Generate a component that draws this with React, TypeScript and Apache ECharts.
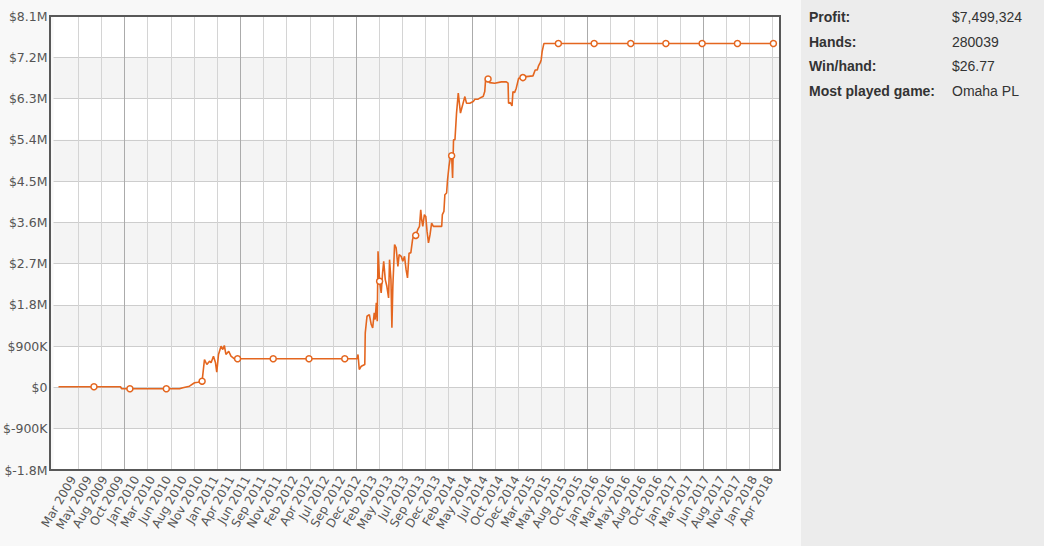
import { useEffect, useRef } from "react";
import * as echarts from "echarts";

// x-axis tick labels (one per label position on the axis)
const tickLabels = [
  "Mar 2009", "May 2009", "Aug 2009", "Oct 2009", "Jan 2010", "Mar 2010", "Jun 2010", "Aug 2010",
  "Nov 2010", "Jan 2011", "Apr 2011", "Jun 2011", "Sep 2011", "Nov 2011", "Feb 2012", "Apr 2012",
  "Jul 2012", "Sep 2012", "Dec 2012", "Feb 2013", "May 2013", "Jul 2013", "Sep 2013", "Dec 2013",
  "Feb 2014", "May 2014", "Jul 2014", "Oct 2014", "Dec 2014", "Mar 2015", "May 2015", "Aug 2015",
  "Oct 2015", "Jan 2016", "Mar 2016", "May 2016", "Aug 2016", "Oct 2016", "Jan 2017", "Mar 2017",
  "Jun 2017", "Aug 2017", "Nov 2017", "Jan 2018", "Apr 2018",
];

// cumulative profit curve: [position in label periods, profit in $K]
const curve: [number, number][] = [
  [-1.01, 15], [1.24, 15], [2.92, 15], [3.0, -28], [3.52, -28], [5.83, -28], [6.67, -28], [6.88, -7],
  [7.3, 28], [7.62, 102], [7.83, 115], [8.1, 137], [8.25, 610], [8.4, 501], [8.57, 573], [8.67, 538],
  [8.82, 682], [8.95, 538], [9.03, 333], [9.14, 719], [9.3, 899], [9.41, 827], [9.51, 915], [9.61, 719],
  [9.79, 790], [9.93, 682], [10.15, 625], [10.35, 625], [12.61, 625], [14.88, 625], [17.15, 625],
  [17.93, 625], [17.99, 719], [18.07, 392], [18.2, 464], [18.42, 501], [18.45, 1191], [18.56, 1553],
  [18.71, 1590], [18.83, 1372], [18.92, 1300], [19.02, 1627], [19.08, 1481], [19.15, 1844],
  [19.21, 1444], [19.26, 2968], [19.36, 2315], [19.46, 2062], [19.55, 2498], [19.62, 2750],
  [19.72, 2352], [19.82, 2206], [19.93, 1953], [19.99, 2787], [20.08, 2352], [20.14, 1300],
  [20.2, 2206], [20.31, 3114], [20.41, 3042], [20.52, 2641], [20.6, 2896], [20.73, 2859],
  [20.83, 2750], [20.94, 2859], [21.04, 2569], [21.13, 2389], [21.23, 2933], [21.34, 2933],
  [21.45, 3223], [21.57, 3369], [21.65, 3316], [21.78, 3440], [21.89, 3512], [21.97, 3876],
  [22.03, 3658], [22.1, 3512], [22.2, 3767], [22.29, 3730], [22.37, 3403], [22.46, 3151],
  [22.56, 3332], [22.66, 3586], [22.77, 3512], [23.3, 3512], [23.34, 3767], [23.44, 3839],
  [23.5, 4203], [23.61, 4240], [23.67, 4529], [23.76, 4819], [23.86, 5037], [23.93, 5052],
  [23.99, 4566], [24.05, 5400], [24.14, 5400], [24.24, 5982], [24.35, 6417], [24.49, 5982],
  [24.6, 6125], [24.77, 6343], [24.87, 6199], [25.08, 6199], [25.3, 6234], [25.4, 6286],
  [25.61, 6286], [25.82, 6330], [25.93, 6343], [26.03, 6452], [26.09, 6744], [26.24, 6728],
  [26.34, 6648], [26.66, 6635], [27.08, 6663], [27.4, 6663], [27.51, 6635], [27.54, 6199],
  [27.65, 6212], [27.76, 6141], [27.82, 6452], [27.92, 6430], [28.03, 6526], [28.18, 6744],
  [28.45, 6757], [28.66, 6779], [29.09, 6794], [29.23, 6924], [29.36, 6924], [29.44, 7012],
  [29.55, 7083], [29.61, 7142], [29.67, 7323], [29.78, 7499], [30.7, 7499], [32.97, 7499],
  [35.29, 7499], [37.52, 7499], [39.82, 7499], [42.06, 7499], [44.34, 7499],
];

// indices of curve points drawn with a hollow circle marker
const markerIdx = [1, 4, 5, 11, 27, 28, 29, 30, 46, 70, 91, 109, 122, 132, 133, 134, 135, 136, 137, 138];

// y axis range
const yMin = -1800000;
const yMax = 8100000;
const yStep = 900000;

// stats panel
const statLabels = ["Profit:", "Hands:", "Win/hand:", "Most played game:"];
const statValues = ["$7,499,324", "280039", "$26.77", "Omaha PL"];

// vertical grid: 30 light divisions, every 5th darker
const gridDivisions = 30;
const gridMajorEvery = 5;

const X_MIN = -1.326;
const X_MAX = 44.76;

const LINE = "#e4661f";
const FONT = "'DejaVu Sans', Verdana, sans-serif";

function fmtY(v: number): string {
  if (v === 0) return "$0";
  if (Math.abs(v) >= 1000000) return "$" + (v / 1000000).toFixed(1) + "M";
  return "$" + Math.round(v / 1000) + "K";
}

export default function App() {
  const ref = useRef<HTMLDivElement>(null);
  useEffect(() => {
    if (!ref.current) return;
    const chart = echarts.init(ref.current, undefined, { renderer: "svg" });
    const markers = new Set(markerIdx);
    const hidden = {
      axisLine: { show: false },
      axisTick: { show: false },
      axisLabel: { show: false },
      splitLine: { show: false },
    };
    const statGraphics: any[] = [];
    const rowsY = [17, 42, 66, 91];
    statLabels.forEach((t, i) => {
      statGraphics.push({
        type: "text",
        x: 809,
        y: rowsY[i],
        z: 50,
        style: {
          text: t,
          fill: "#333",
          font: "bold 14px 'Liberation Sans', Arial, sans-serif",
          verticalAlign: "middle",
        },
      });
      statGraphics.push({
        type: "text",
        x: 952,
        y: rowsY[i],
        z: 50,
        style: {
          text: statValues[i],
          fill: "#333",
          font: "14px 'Liberation Sans', Arial, sans-serif",
          verticalAlign: "middle",
        },
      });
    });
    const H = { top: 16, bottom: 76 };
    chart.setOption({
      animation: false,
      backgroundColor: "#f8f8f8",
      grid: [
        { left: 50, right: 264, ...H },          // data
        { left: 73, right: 274, ...H },          // label positions
        { left: 78.3, right: 271.3, ...H },      // light vertical lines
        { left: 124.6, right: 340.6, ...H },     // dark vertical lines
      ],
      xAxis: [
        { type: "value", gridIndex: 0, min: X_MIN, max: X_MAX, ...hidden },
        {
          type: "value",
          gridIndex: 1,
          min: 0,
          max: tickLabels.length - 1,
          interval: 1,
          axisLine: { show: false },
          axisTick: { show: false },
          splitLine: { show: false },
          axisLabel: {
            rotate: 60,
            margin: 7,
            color: "#555",
            fontFamily: FONT,
            fontSize: 12,
            showMinLabel: true,
            showMaxLabel: true,
            formatter: (v: number) => {
              const i = Math.round(v);
              return i >= 0 && i < tickLabels.length ? tickLabels[i] : "";
            },
          },
        },
        {
          type: "value",
          gridIndex: 2,
          min: 0,
          max: gridDivisions,
          interval: 1,
          z: 1,
          axisLine: { show: false },
          axisTick: { show: false },
          axisLabel: { show: false },
          splitLine: { show: true, lineStyle: { color: "#d4d4d4", width: 1 } },
        },
        {
          type: "value",
          gridIndex: 3,
          min: 0,
          max: gridMajorEvery * 5,
          interval: gridMajorEvery,
          z: 1,
          axisLine: { show: false },
          axisTick: { show: false },
          axisLabel: { show: false },
          splitLine: { show: true, lineStyle: { color: "#ababab", width: 1 } },
        },
      ],
      yAxis: [
        {
          type: "value",
          gridIndex: 0,
          min: yMin,
          max: yMax,
          interval: yStep,
          z: 0,
          axisLine: { show: false },
          axisTick: { show: false },
          axisLabel: {
            color: "#555",
            fontFamily: FONT,
            fontSize: 12.5,
            margin: 6,
            formatter: fmtY,
          },
          splitLine: { show: true, lineStyle: { color: "#cdcdcd", width: 1 } },
          splitArea: { show: true, areaStyle: { color: ["#ffffff", "#f4f4f4"] } },
        },
        { type: "value", gridIndex: 1, min: 0, max: 1, ...hidden },
        { type: "value", gridIndex: 2, min: 0, max: 1, ...hidden },
        { type: "value", gridIndex: 3, min: 0, max: 1, ...hidden },
      ],
      series: [
        {
          type: "line",
          xAxisIndex: 0,
          yAxisIndex: 0,
          z: 5,
          showSymbol: true,
          showAllSymbol: true,
          symbolSize: 6,
          data: curve.map((p, i) => ({
            value: [p[0], p[1] * 1000],
            symbol: markers.has(i) ? "circle" : "none",
          })),
          lineStyle: { color: LINE, width: 1.6 },
          itemStyle: { color: "#ffffff", borderColor: LINE, borderWidth: 1.5 },
        },
      ],
      graphic: [
        {
          type: "rect",
          z: 40,
          shape: { x: 801, y: 0, width: 243, height: 546 },
          style: { fill: "#ececec" },
        },
        {
          type: "rect",
          z: 40,
          shape: { x: 50, y: 16, width: 730, height: 454 },
          style: { fill: "none", stroke: "#585858", lineWidth: 2 },
        },
        ...statGraphics,
      ],
    });
    return () => chart.dispose();
  }, []);
  return (
    <div
      ref={ref}
      style={{ position: "fixed", left: 0, top: 0, width: 1044, height: 546 }}
    />
  );
}
